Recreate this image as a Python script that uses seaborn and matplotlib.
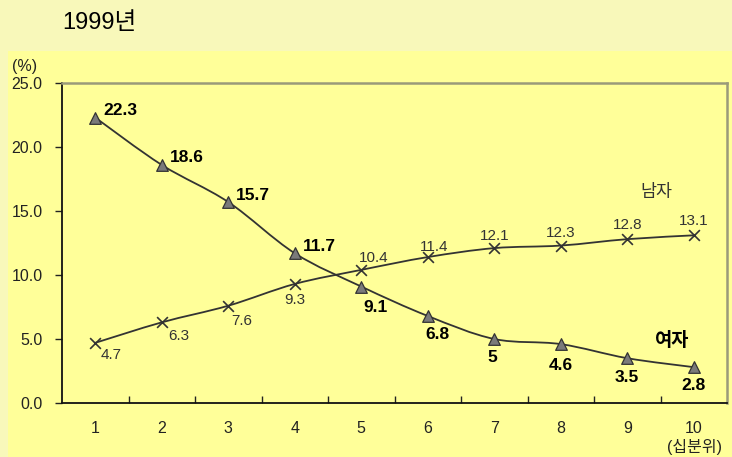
import matplotlib
matplotlib.use("Agg")
import matplotlib.pyplot as plt
from matplotlib.path import Path
from matplotlib.patches import PathPatch, Rectangle
import numpy as np
import pandas as pd
import seaborn as sns

# Income deciles and shares (%) by sex, 1999
deciles = [1, 2, 3, 4, 5, 6, 7, 8, 9, 10]
female = [22.3, 18.6, 15.7, 11.7, 9.1, 6.8, 5, 4.6, 3.5, 2.8]
male = [4.7, 6.3, 7.6, 9.3, 10.4, 11.4, 12.1, 12.3, 12.8, 13.1]
female_labels = ["22.3", "18.6", "15.7", "11.7", "9.1", "6.8", "5", "4.6", "3.5", "2.8"]
male_labels = ["4.7", "6.3", "7.6", "9.3", "10.4", "11.4", "12.1", "12.3", "12.8", "13.1"]
y_ticks = [0, 5, 10, 15, 20, 25]
y_tick_labels = ["0.0", "5.0", "10.0", "15.0", "20.0", "25.0"]

sns.set_theme(style="white")
plt.rcParams["font.family"] = ["Liberation Sans", "Noto Sans CJK KR", "DejaVu Sans"]

OUTER = "#F8F8BA"
PANEL = "#FFFF99"
INK = "#222222"

fig = plt.figure(figsize=(7.32, 4.57), dpi=100, facecolor=OUTER)
W, H = 732, 457
fig.add_artist(Rectangle((8 / W, 0), 1 - 8 / W, 1 - 51 / H,
                         transform=fig.transFigure, facecolor=PANEL,
                         edgecolor="none", zorder=-5))

ax = fig.add_axes([62 / W, 1 - 403 / H, 665 / W, 320 / H])
ax.set_zorder(2)
ax.set_facecolor(PANEL)

df = pd.DataFrame({"decile": deciles * 2,
                   "share": female + male,
                   "sex": ["여자"] * 10 + ["남자"] * 10})


def smooth_path(xs, ys):
    """Bezier path through the points with Catmull-Rom style tangents."""
    pts = np.column_stack([xs, ys]).astype(float)
    n = len(pts)
    verts = [pts[0]]
    codes = [Path.MOVETO]
    for i in range(n - 1):
        p0 = pts[i - 1] if i > 0 else pts[i]
        p1 = pts[i]
        p2 = pts[i + 1]
        p3 = pts[i + 2] if i + 2 < n else pts[i + 1]
        c1 = p1 + (p2 - p0) / 6.0
        c2 = p2 - (p3 - p1) / 6.0
        verts += [c1, c2, p2]
        codes += [Path.CURVE4] * 3
    return Path(verts, codes)


for vals in (female, male):
    ax.add_patch(PathPatch(smooth_path(deciles, vals), facecolor="none",
                           edgecolor="#333333", linewidth=1.3, zorder=2))

sns.scatterplot(data=df[df.sex == "여자"], x="decile", y="share", ax=ax,
                marker="^", s=70, color="#7a7a7a", edgecolor="#333333",
                linewidth=0.9, zorder=3, legend=False)
sns.scatterplot(data=df[df.sex == "남자"], x="decile", y="share", ax=ax,
                marker="x", s=60, color="#333333", linewidth=1.2,
                zorder=3, legend=False)

ax.set_xlim(0.5, 10.5)
ax.set_ylim(0, 25)
ax.set_xlabel("")
ax.set_ylabel("")

# Category axis: labels at the deciles, tick marks between them
ax.set_xticks(deciles)
ax.set_xticklabels([str(d) for d in deciles], fontsize=11.5, color=INK)
ax.set_xticks([d + 0.5 for d in deciles[:-1]], minor=True)
ax.tick_params(axis="x", which="major", length=0, pad=13)
ax.tick_params(axis="x", which="minor", direction="in", length=5,
               width=1, color="#222222", bottom=True)
ax.set_yticks(y_ticks)
ax.set_yticklabels(y_tick_labels, fontsize=11.5, color=INK)
ax.tick_params(axis="y", direction="out", length=5, width=1,
               color="#222222", left=True, pad=9)

for side in ("left", "bottom"):
    ax.spines[side].set_color("#111111")
    ax.spines[side].set_linewidth(1.3)
for side in ("top", "right"):
    ax.spines[side].set_color("#9a9a7a")
    ax.spines[side].set_linewidth(1.8)

# Female value labels (bold)
f_offsets = [(8, 7, "left")] * 4 + [(14, -21, "center"), (10, -19, "center")] + \
            [(-2, -18, "center"), (0, -21, "center"), (0, -19, "center"), (0, -18, "center")]
for x, v, lab, (dx, dy, ha) in zip(deciles, female, female_labels, f_offsets):
    ax.annotate(lab, (x, v), xytext=(dx, dy), textcoords="offset pixels",
                ha=ha, va="center", fontsize=12.5, fontweight="bold", color="#000000")

# Male value labels
m_offsets = [(16, -12), (17, -14), (13, -15), (0, -16), (12, 12), (6, 10),
             (0, 12), (0, 13), (0, 14), (0, 14)]
for x, v, lab, (dx, dy) in zip(deciles, male, male_labels, m_offsets):
    ax.annotate(lab, (x, v), xytext=(dx, dy), textcoords="offset pixels",
                ha="center", va="center", fontsize=11, color="#333333")

fig.text(656 / W, 1 - 192 / H, "남자", ha="center", va="center",
         fontsize=12.5, color="#333333")
fig.text(672 / W, 1 - 341 / H, "여자", ha="center", va="center",
         fontsize=13.5, fontweight="bold", color="#000000")
fig.text(25 / W, 1 - 67 / H, "(%)", ha="center", va="center",
         fontsize=11.5, color=INK)
fig.text(694 / W, 1 - 447 / H, "(십분위)", ha="center", va="center",
         fontsize=11.5, color=INK)
fig.text(62 / W, 1 - 23 / H, "1999년", ha="left", va="center",
         fontsize=17, color="#000000")

fig.savefig("out.png", dpi=100, facecolor=OUTER)
